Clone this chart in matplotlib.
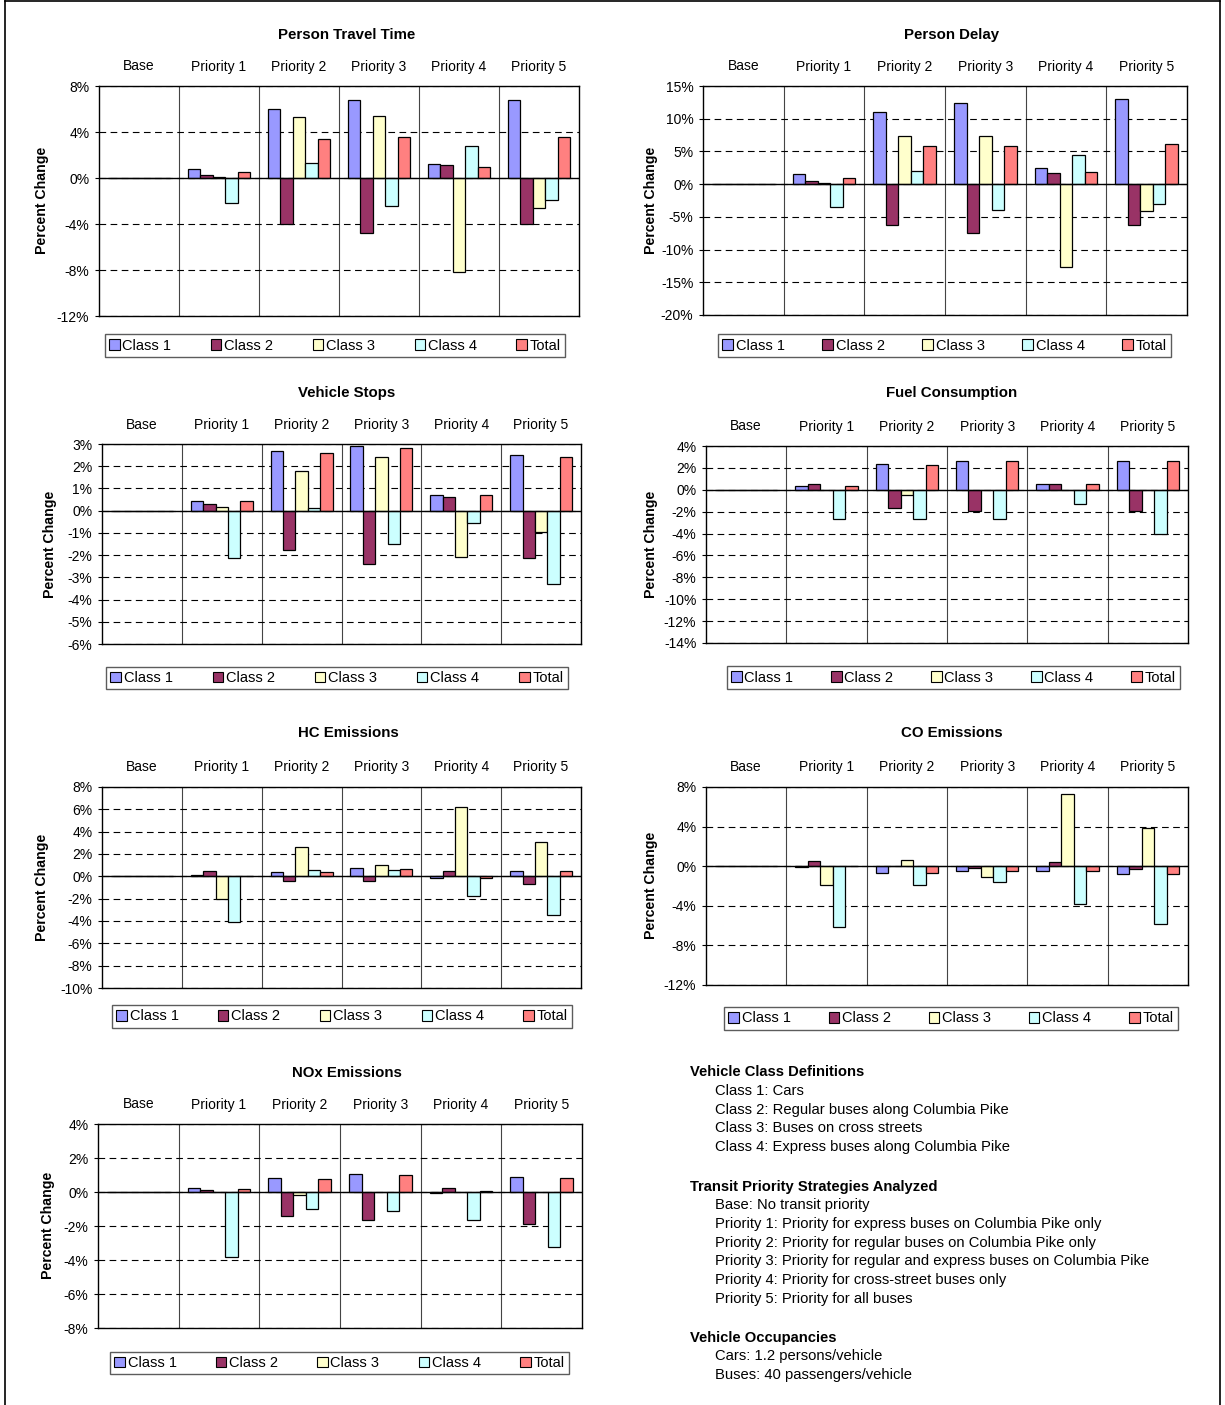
import numpy as np
import matplotlib.pyplot as plt
from matplotlib.patches import Patch
from matplotlib.ticker import FuncFormatter

plt.rcParams['font.family'] = ['Liberation Sans', 'DejaVu Sans']

categories = ['Base', 'Priority 1', 'Priority 2', 'Priority 3', 'Priority 4', 'Priority 5']
series_names = ['Class 1', 'Class 2', 'Class 3', 'Class 4', 'Total']
series_colors = ['#9999FF', '#993366', '#FFFFCC', '#CCFFFF', '#FF8080']

# rows: Class 1, Class 2, Class 3, Class 4, Total ; columns: categories
travel_time = [
    [0, 0.82, 6.0, 6.75, 1.25, 6.8],
    [0, 0.26, -4.0, -4.8, 1.1, -4.0],
    [0, 0.09, 5.3, 5.4, -8.15, -2.65],
    [0, -2.2, 1.3, -2.4, 2.75, -1.9],
    [0, 0.5, 3.4, 3.55, 1.0, 3.55],
]
person_delay = [
    [0, 1.6, 11.0, 12.4, 2.5, 13.0],
    [0, 0.46, -6.2, -7.5, 1.75, -6.3],
    [0, 0.1, 7.4, 7.3, -12.6, -4.1],
    [0, -3.56, 2.06, -3.9, 4.4, -3.0],
    [0, 0.93, 5.8, 5.9, 1.8, 6.2],
]
vehicle_stops = [
    [0, 0.45, 2.68, 2.92, 0.7, 2.5],
    [0, 0.3, -1.79, -2.41, 0.62, -2.12],
    [0, 0.17, 1.8, 2.41, -2.1, -0.97],
    [0, -2.14, 0.12, -1.5, -0.55, -3.3],
    [0, 0.44, 2.59, 2.82, 0.7, 2.41],
]
fuel = [
    [0, 0.36, 2.33, 2.67, 0.52, 2.67],
    [0, 0.55, -1.64, -1.94, 0.55, -1.94],
    [0, 0.0, -0.45, 0.0, 0.0, 0.0],
    [0, -2.67, -2.67, -2.67, -1.33, -4.03],
    [0, 0.33, 2.27, 2.6, 0.52, 2.6],
]
hc = [
    [0, 0.1, 0.42, 0.72, -0.18, 0.51],
    [0, 0.5, -0.45, -0.45, 0.51, -0.66],
    [0, -2.07, 2.67, 1.02, 6.18, 3.09],
    [0, -4.08, 0.57, 0.54, -1.77, -3.48],
    [0, 0.06, 0.39, 0.69, -0.12, 0.45],
]
co = [
    [0, -0.05, -0.71, -0.44, -0.44, -0.81],
    [0, 0.51, 0.0, -0.17, 0.44, -0.3],
    [0, -1.9, 0.61, -1.12, 7.25, 3.86],
    [0, -6.17, -1.86, -1.59, -3.8, -5.8],
    [0, 0.03, -0.71, -0.44, -0.44, -0.81],
]
nox = [
    [0, 0.23, 0.82, 1.07, -0.06, 0.88],
    [0, 0.12, -1.39, -1.66, 0.23, -1.87],
    [0, 0.0, -0.18, 0.0, 0.0, 0.0],
    [0, -3.82, -0.98, -1.09, -1.62, -3.26],
    [0, 0.2, 0.78, 1.01, 0.08, 0.84],
]

W, H = 1225, 1405
fig = plt.figure(figsize=(W / 100, H / 100), dpi=100)

def fx(x):
    return x / W

def fy(y):
    return 1 - y / H

pct = FuncFormatter(lambda v, pos: '%d%%' % v)
bw = 0.155

def panel(data, title, yticks, plot_box, title_xy, ylabel_xy, legend_box):
    l, t, r, b = plot_box
    ax = fig.add_axes([fx(l), fy(b), fx(r - l), (b - t) / H])
    x = np.arange(len(categories)) + 0.5
    for j, (vals, c) in enumerate(zip(data, series_colors)):
        ax.bar(x + (j - 2) * bw, vals, width=bw, color=c, edgecolor='black',
               linewidth=0.9, zorder=3)
    ax.set_xlim(0, len(categories))
    ax.set_ylim(yticks[0], yticks[-1])
    ax.set_yticks(yticks)
    ax.yaxis.set_major_formatter(pct)
    ax.xaxis.tick_top()
    ax.set_xticks(x)
    ax.set_xticklabels(categories, fontsize=10)
    ax.set_xticks(np.arange(1, len(categories)), minor=True)
    ax.tick_params(axis='x', which='both', length=0, pad=9)
    ax.tick_params(axis='y', length=3, width=0.8, pad=4, labelsize=10)
    ax.grid(which='minor', axis='x', color='#444444', lw=0.8, zorder=1)
    ax.grid(which='major', axis='y', color='black', lw=0.8, ls=(0, (6, 4)), zorder=1)
    ax.axhline(0, color='black', lw=1, zorder=4)
    for s in ax.spines.values():
        s.set_linewidth(1)
    fig.text(fx(title_xy[0]), fy(title_xy[1]), title, ha='center', va='center',
             fontsize=10.8, fontweight='bold')
    fig.text(fx(ylabel_xy[0]), fy(ylabel_xy[1]), 'Percent Change', ha='center',
             va='center', rotation=90, fontsize=10.2, fontweight='bold')
    ll, lt, lr, lb = legend_box
    handles = [Patch(facecolor=c, edgecolor='black', linewidth=0.8) for c in series_colors]
    leg = ax.legend(handles, series_names, ncol=5, mode='expand', loc='center',
                    bbox_to_anchor=(fx(ll), fy(lb), fx(lr - ll), (lb - lt) / H),
                    bbox_transform=fig.transFigure, fontsize=10.5, fancybox=False,
                    edgecolor='#333333', handlelength=0.7, handleheight=0.7,
                    handletextpad=0.2, borderpad=0.3, borderaxespad=0,
                    columnspacing=1.0)
    leg.get_frame().set_linewidth(1)
    return ax

panel(travel_time, 'Person Travel Time', [-12, -8, -4, 0, 4, 8],
      (99, 86, 579, 316), (347, 35), (42, 200), (105, 333, 565, 358))
panel(person_delay, 'Person Delay', [-20, -15, -10, -5, 0, 5, 10, 15],
      (703, 86, 1187, 315), (952, 35), (651, 200), (718, 333, 1171, 358))
panel(vehicle_stops, 'Vehicle Stops', [-6, -5, -4, -3, -2, -1, 0, 1, 2, 3],
      (102, 444, 581, 644), (347, 393), (50, 544), (106, 665, 568, 691))
panel(fuel, 'Fuel Consumption', [-14, -12, -10, -8, -6, -4, -2, 0, 2, 4],
      (706, 446, 1188, 643), (952, 393), (651, 544), (727, 664, 1180, 691))
panel(hc, 'HC Emissions', [-10, -8, -6, -4, -2, 0, 2, 4, 6, 8],
      (102, 787, 581, 988), (348, 733), (42, 887), (112, 1003, 572, 1030))
panel(co, 'CO Emissions', [-12, -8, -4, 0, 4, 8],
      (706, 787, 1188, 985), (952, 733), (651, 885), (724, 1005, 1178, 1032))
panel(nox, 'NOx Emissions', [-8, -6, -4, -2, 0, 2, 4],
      (98, 1124, 582, 1328), (347, 1073), (48, 1225), (110, 1350, 569, 1376))

# notes block
notes = [
    ('Vehicle Class Definitions', 1072, True),
    ('Class 1: Cars', 1091, False),
    ('Class 2: Regular buses along Columbia Pike', 1110, False),
    ('Class 3: Buses on cross streets', 1128, False),
    ('Class 4: Express buses along Columbia Pike', 1147, False),
    ('Transit Priority Strategies Analyzed', 1187, True),
    ('Base: No transit priority', 1205, False),
    ('Priority 1: Priority for express buses on Columbia Pike only', 1224, False),
    ('Priority 2: Priority for regular buses on Columbia Pike only', 1243, False),
    ('Priority 3: Priority for regular and express buses on Columbia Pike', 1261, False),
    ('Priority 4: Priority for cross-street buses only', 1280, False),
    ('Priority 5: Priority for all buses', 1299, False),
    ('Vehicle Occupancies', 1338, True),
    ('Cars: 1.2 persons/vehicle', 1356, False),
    ('Buses: 40 passengers/vehicle', 1375, False),
]
for txt, y, bold in notes:
    fig.text(fx(690 if bold else 715), fy(y), txt, ha='left', va='center',
             fontsize=10.6, fontweight='bold' if bold else 'normal')

# outer frame
fig.add_artist(plt.Line2D([fx(5), fx(5)], [0, fy(1)], color='black', lw=1.2))
fig.add_artist(plt.Line2D([fx(1220), fx(1220)], [0, fy(1)], color='black', lw=1.2))
fig.add_artist(plt.Line2D([fx(5), fx(1220)], [fy(1), fy(1)], color='black', lw=1.2))

fig.savefig('out.png', dpi=100)
